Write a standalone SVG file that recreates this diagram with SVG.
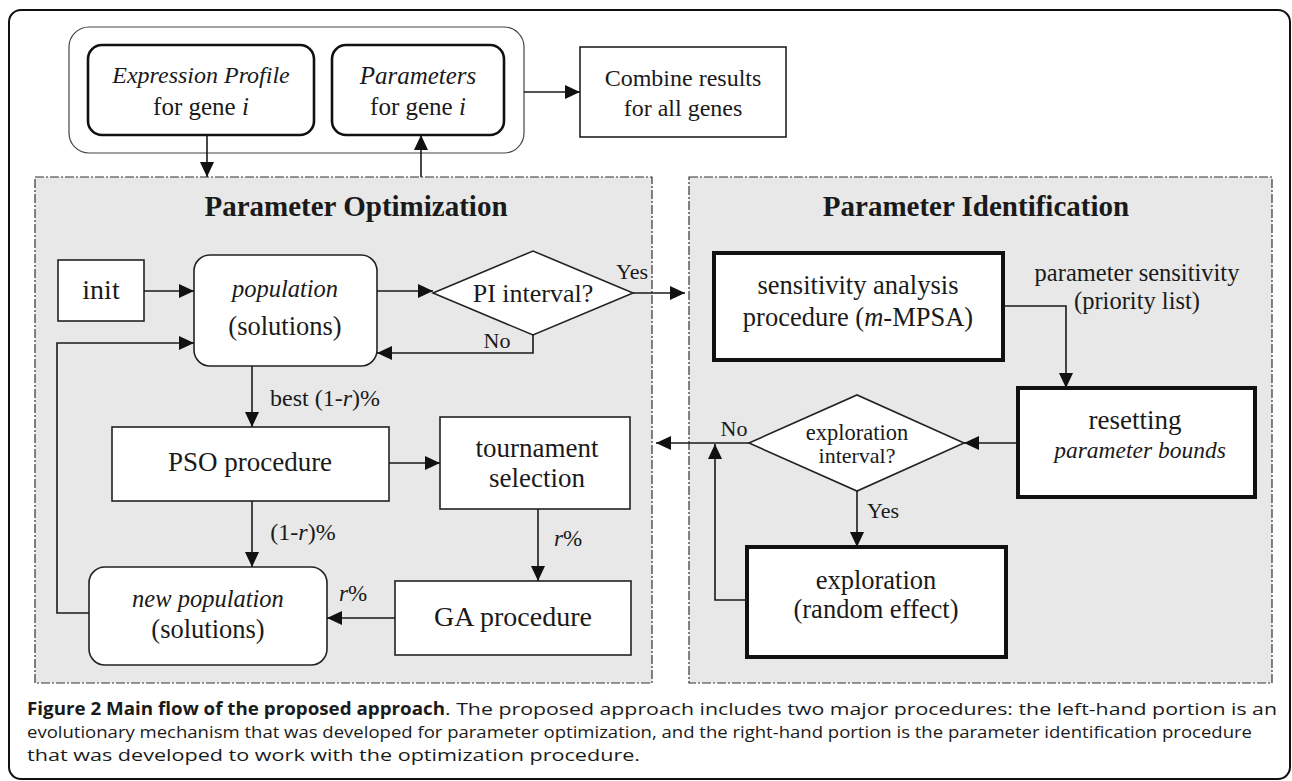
<svg xmlns="http://www.w3.org/2000/svg" width="1292" height="781" viewBox="0 0 1292 781">
<defs>
<marker id="arr" markerUnits="userSpaceOnUse" markerWidth="16" markerHeight="14" refX="15" refY="7" orient="auto">
<path d="M0,0 L15,7 L0,14 z" fill="#111"/>
</marker>
<style>
.t{font-family:"Liberation Serif","Times New Roman",serif;fill:#1a1a1a;text-anchor:middle;dominant-baseline:central}
.i{font-style:italic}
.b{font-weight:bold}
.n{fill:#fff;stroke:#222;stroke-width:1.6}
.k{fill:#fff;stroke:#111;stroke-width:4}
.r{fill:#fff;stroke:#111;stroke-width:2.6}
.p{fill:#e8e8e8;stroke:#333;stroke-width:1.2;stroke-dasharray:9 2 2 2}
.c{fill:none;stroke:#1a1a1a;stroke-width:1.6}
.cap{font-family:"Open Sans","Noto Sans",sans-serif;font-size:17px;fill:#1a1a1a}
</style>
</defs>
<rect x="9" y="10" width="1281" height="769" rx="12" fill="#fff" stroke="#111" stroke-width="2"/>

<g id="panel-optimization">
<rect class="p" x="35" y="177" width="617" height="506"/>
<text class="t b" x="356" y="206" font-size="29">Parameter Optimization</text>
</g>
<g id="panel-identification">
<rect class="p" x="689" y="177" width="583" height="506"/>
<text class="t b" x="976" y="206" font-size="29">Parameter Identification</text>
</g>

<g id="gene-group">
<rect x="69" y="27" width="455" height="126" rx="20" fill="#fff" stroke="#444" stroke-width="1.2"/>
</g>
<g id="expression-profile">
<rect class="r" x="88" y="45" width="226" height="90" rx="14"/>
<text class="t i" x="201" y="75" font-size="24">Expression Profile</text>
<text class="t" x="201" y="106" font-size="25">for gene <tspan class="i">i</tspan></text>
</g>
<g id="parameters">
<rect class="r" x="332" y="45" width="172" height="90" rx="14"/>
<text class="t i" x="418" y="75" font-size="25">Parameters</text>
<text class="t" x="418" y="106" font-size="25">for gene <tspan class="i">i</tspan></text>
</g>
<g id="combine">
<rect class="n" x="580" y="47" width="206" height="90"/>
<text class="t" x="683" y="78" font-size="24">Combine results</text>
<text class="t" x="683" y="108" font-size="24">for all genes</text>
</g>

<g id="init">
<rect class="n" x="58" y="260" width="86" height="61"/>
<text class="t" x="101" y="289" font-size="28">init</text>
</g>
<g id="population">
<rect class="n" x="194" y="255" width="183" height="111" rx="16"/>
<text class="t i" x="285" y="288" font-size="24.5">population</text>
<text class="t" x="285" y="326" font-size="26.5">(solutions)</text>
</g>
<g id="pi-interval">
<polygon class="n" points="433,293 533,251 633,293 533,335"/>
<text class="t" x="533" y="293" font-size="26">PI interval?</text>
</g>
<g id="pso">
<rect class="n" x="112" y="427" width="277" height="74"/>
<text class="t" x="250" y="462" font-size="27">PSO procedure</text>
</g>
<g id="tournament">
<rect class="n" x="440" y="417" width="190" height="92"/>
<text class="t" x="537" y="448" font-size="27">tournament</text>
<text class="t" x="537" y="478" font-size="27">selection</text>
</g>
<g id="ga">
<rect class="n" x="395" y="581" width="236" height="74"/>
<text class="t" x="513" y="616" font-size="28">GA procedure</text>
</g>
<g id="new-population">
<rect class="n" x="89" y="567" width="238" height="98" rx="16"/>
<text class="t i" x="208" y="598" font-size="24.5">new population</text>
<text class="t" x="208" y="629" font-size="26.5">(solutions)</text>
</g>

<g id="sensitivity">
<rect class="k" x="714" y="253" width="289" height="107"/>
<text class="t" x="858" y="285" font-size="26.5">sensitivity analysis</text>
<text class="t" x="858" y="317" font-size="26.5">procedure (<tspan class="i">m</tspan>-MPSA)</text>
</g>
<g id="resetting">
<rect class="k" x="1018" y="388" width="237" height="109"/>
<text class="t" x="1135" y="420" font-size="27">resetting</text>
<text class="t i" x="1140" y="450" font-size="23.5">parameter bounds</text>
</g>
<g id="exploration-interval">
<polygon class="n" points="749,443 857,395 964,443 857,491"/>
<text class="t" x="857" y="432" font-size="22.5">exploration</text>
<text class="t" x="857" y="455" font-size="22">interval?</text>
</g>
<g id="exploration">
<rect class="k" x="747" y="547" width="259" height="110"/>
<text class="t" x="876" y="580" font-size="26.5">exploration</text>
<text class="t" x="876" y="609" font-size="26.5">(random effect)</text>
</g>

<g id="connectors">
<path class="c" d="M207,135 V177" marker-end="url(#arr)"/>
<path class="c" d="M421,177 V135" marker-end="url(#arr)"/>
<path class="c" d="M524,92 H580" marker-end="url(#arr)"/>
<path class="c" d="M144,291 H194" marker-end="url(#arr)"/>
<path class="c" d="M377,291 H433" marker-end="url(#arr)"/>
<path class="c" d="M633,293 H685" marker-end="url(#arr)"/>
<path class="c" d="M533,335 V353 H377" marker-end="url(#arr)"/>
<path class="c" d="M89,613 H57 V343 H194" marker-end="url(#arr)"/>
<path class="c" d="M252,366 V427" marker-end="url(#arr)"/>
<path class="c" d="M389,463 H440" marker-end="url(#arr)"/>
<path class="c" d="M252,501 V567" marker-end="url(#arr)"/>
<path class="c" d="M538,509 V581" marker-end="url(#arr)"/>
<path class="c" d="M395,618 H327" marker-end="url(#arr)"/>
<path class="c" d="M1003,306 H1066 V388" marker-end="url(#arr)"/>
<path class="c" d="M1018,443 H964" marker-end="url(#arr)"/>
<path class="c" d="M749,443 H656" marker-end="url(#arr)"/>
<path class="c" d="M857,491 V547" marker-end="url(#arr)"/>
<path class="c" d="M747,600 H715 V444" marker-end="url(#arr)"/>
<text class="t" x="632" y="271" font-size="22">Yes</text>
<text class="t" x="497" y="340" font-size="22">No</text>
<text class="t" x="325" y="398" font-size="24">best (1-<tspan class="i">r</tspan>)%</text>
<text class="t" x="303" y="532" font-size="24">(1-<tspan class="i">r</tspan>)%</text>
<text class="t" x="568" y="538" font-size="23"><tspan class="i">r</tspan>%</text>
<text class="t" x="353" y="593" font-size="23"><tspan class="i">r</tspan>%</text>
<text class="t" x="1137" y="272" font-size="24.5">parameter sensitivity</text>
<text class="t" x="1137" y="300" font-size="24.5">(priority list)</text>
<text class="t" x="734" y="428" font-size="22">No</text>
<text class="t" x="883" y="510" font-size="22">Yes</text>
</g>

<g id="caption">
<text class="cap" font-weight="bold" x="27" y="715" textLength="418" lengthAdjust="spacingAndGlyphs">Figure 2 Main flow of the proposed approach</text>
<text class="cap" x="445" y="715" textLength="832" lengthAdjust="spacingAndGlyphs">. The proposed approach includes two major procedures: the left-hand portion is an</text>
<text class="cap" x="27" y="738" textLength="1225" lengthAdjust="spacingAndGlyphs">evolutionary mechanism that was developed for parameter optimization, and the right-hand portion is the parameter identification procedure</text>
<text class="cap" x="27" y="761" textLength="613" lengthAdjust="spacingAndGlyphs">that was developed to work with the optimization procedure.</text>
</g>
</svg>
